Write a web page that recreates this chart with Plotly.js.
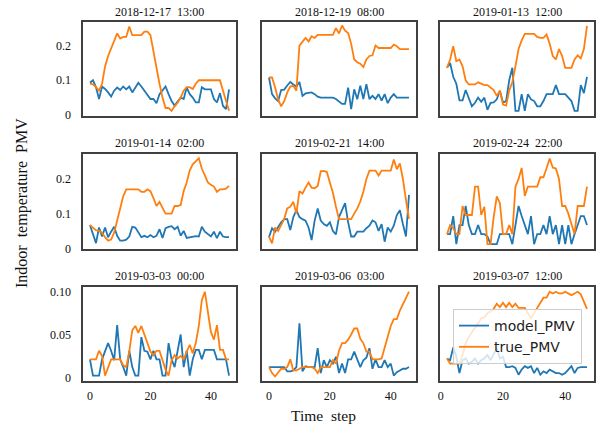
<!DOCTYPE html>
<html>
<head>
<meta charset="utf-8">
<script src="https://cdn.plot.ly/plotly-3.0.1.min.js"></script>
<style>html,body{margin:0;padding:0;background:#fff;}#chart{width:602px;height:424px;}</style>
</head>
<body>
<div id="chart"></div>
<script>
// Time steps
const stepsA = [0,1,2,3,4,5,6,7,8,9,10,11,12,13,14,15,16,17,18,19,20,21,22,23,24,25,26,27,28,29,30,31,32,33,34,35,36,37,38,39,40,41,42,43,44,45,46];
const stepsB = [2,3,4,5,6,7,8,9,10,11,12,13,14,15,16,17,18,19,20,21,22,23,24,25,26,27,28,29,30,31,32,33,34,35,36,37,38,39,40,41,42,43,44,45,46,47];

const panelTitles = ["2018-12-17\u00a0\u00a013:00","2018-12-19\u00a0\u00a008:00","2019-01-13\u00a0\u00a012:00",
                     "2019-01-14\u00a0\u00a002:00","2019-02-21\u00a0\u00a014:00","2019-02-24\u00a0\u00a022:00",
                     "2019-03-03\u00a0\u00a000:00","2019-03-06\u00a0\u00a003:00","2019-03-07\u00a0\u00a012:00"];

// Panel 1: 2018-12-17 13:00
const model1 = [0.093,0.1,0.08,0.046,0.082,0.075,0.065,0.053,0.07,0.079,0.072,0.082,0.074,0.082,0.065,0.08,0.093,0.082,0.07,0.06,0.046,0.046,0.034,0.06,0.07,0.082,0.06,0.04,0.027,0.04,0.05,0.046,0.079,0.06,0.05,0.036,0.036,0.08,0.074,0.074,0.074,0.046,0.036,0.063,0.026,0.017,0.074];
const true1  = [0.09,0.088,0.08,0.07,0.09,0.14,0.17,0.19,0.21,0.235,0.22,0.225,0.225,0.255,0.23,0.23,0.23,0.23,0.24,0.24,0.23,0.18,0.13,0.09,0.05,0.02,0.02,0.012,0.025,0.035,0.05,0.07,0.08,0.08,0.075,0.09,0.1,0.1,0.1,0.1,0.1,0.1,0.1,0.1,0.07,0.04,0.012];
// Panel 2: 2018-12-19 08:00
const model2 = [0.108,0.06,0.048,0.04,0.072,0.073,0.085,0.095,0.088,0.082,0.095,0.055,0.062,0.064,0.065,0.06,0.053,0.05,0.05,0.05,0.05,0.05,0.046,0.04,0.032,0.032,0.079,0.017,0.074,0.045,0.084,0.046,0.089,0.046,0.055,0.046,0.06,0.041,0.06,0.034,0.05,0.06,0.05,0.05,0.05,0.05,0.05];
const true2  = [0.108,0.108,0.08,0.045,0.025,0.04,0.065,0.082,0.084,0.07,0.2,0.212,0.222,0.212,0.227,0.222,0.231,0.231,0.231,0.231,0.231,0.231,0.25,0.235,0.258,0.243,0.236,0.205,0.16,0.152,0.148,0.138,0.16,0.17,0.172,0.2,0.193,0.193,0.193,0.193,0.193,0.203,0.198,0.19,0.19,0.19,0.19];
// Panel 3: 2019-01-13 12:00
const model3 = [0.136,0.15,0.11,0.09,0.042,0.042,0.072,0.05,0.025,0.035,0.05,0.038,0.05,0.015,0.035,0.036,0.045,0.07,0.036,0.04,0.1,0.136,0.012,0.012,0.06,0.012,0.06,0.045,0.04,0.025,0.025,0.04,0.06,0.06,0.06,0.086,0.06,0.06,0.06,0.05,0.04,0.012,0.012,0.086,0.063,0.11];
const true3  = [0.136,0.16,0.198,0.155,0.16,0.14,0.1,0.088,0.088,0.088,0.094,0.09,0.086,0.086,0.08,0.072,0.055,0.07,0.03,0.027,0.07,0.095,0.14,0.19,0.215,0.234,0.234,0.234,0.234,0.225,0.222,0.222,0.232,0.205,0.17,0.16,0.19,0.17,0.136,0.136,0.136,0.16,0.172,0.163,0.19,0.257];
// Panel 4: 2019-01-14 02:00
const model4 = [0.067,0.04,0.015,0.06,0.034,0.06,0.032,0.048,0.062,0.036,0.022,0.022,0.025,0.034,0.062,0.06,0.045,0.032,0.036,0.032,0.038,0.032,0.036,0.055,0.03,0.058,0.062,0.064,0.055,0.062,0.036,0.05,0.03,0.032,0.034,0.035,0.034,0.062,0.048,0.042,0.034,0.048,0.029,0.048,0.034,0.032,0.032];
const true4  = [0.067,0.06,0.052,0.05,0.045,0.032,0.022,0.025,0.045,0.08,0.118,0.15,0.17,0.17,0.17,0.17,0.17,0.163,0.163,0.17,0.165,0.145,0.122,0.134,0.118,0.1,0.1,0.1,0.122,0.122,0.125,0.165,0.19,0.225,0.242,0.25,0.26,0.23,0.21,0.19,0.183,0.178,0.163,0.17,0.17,0.172,0.18];
// Panel 5: 2019-02-21 14:00
const model5 = [0.032,0.058,0.048,0.062,0.075,0.084,0.084,0.053,0.09,0.11,0.09,0.084,0.08,0.06,0.024,0.08,0.115,0.08,0.07,0.065,0.075,0.05,0.04,0.09,0.11,0.13,0.075,0.034,0.034,0.048,0.048,0.048,0.058,0.065,0.08,0.075,0.05,0.07,0.019,0.06,0.048,0.065,0.096,0.11,0.07,0.034,0.154];
const true5  = [0.034,0.014,0.06,0.05,0.067,0.085,0.115,0.12,0.134,0.1,0.165,0.158,0.175,0.19,0.175,0.173,0.18,0.222,0.223,0.22,0.19,0.16,0.12,0.084,0.084,0.084,0.084,0.084,0.1,0.115,0.135,0.163,0.2,0.224,0.224,0.224,0.21,0.224,0.224,0.224,0.224,0.256,0.228,0.245,0.2,0.14,0.085];
// Panel 6: 2019-02-24 22:00
const model6 = [0.041,0.041,0.093,0.012,0.067,0.067,0.122,0.067,0.041,0.041,0.067,0.041,0.041,0.034,0.012,0.012,0.012,0.041,0.041,0.041,0.041,0.012,0.067,0.122,0.093,0.067,0.041,0.093,0.012,0.041,0.041,0.067,0.041,0.093,0.041,0.067,0.012,0.067,0.012,0.067,0.012,0.041,0.067,0.093,0.093,0.067];
const true6  = [0.041,0.067,0.058,0.041,0.041,0.122,0.096,0.096,0.096,0.178,0.178,0.096,0.12,0.012,0.012,0.09,0.15,0.13,0.041,0.041,0.067,0.041,0.178,0.2,0.232,0.151,0.178,0.178,0.178,0.178,0.205,0.205,0.231,0.259,0.233,0.23,0.2,0.122,0.122,0.1,0.07,0.041,0.122,0.122,0.122,0.178];
// Panel 7: 2019-03-03 00:00
const model7 = [0.021,0.002,0.002,0.002,0.021,0.031,0.04,0.031,0.02,0.061,0.021,0.012,0.002,0.031,0.012,0.002,0.002,0.047,0.031,0.03,0.021,0.031,0.021,0.021,0.002,0.002,0.04,0.021,0.012,0.031,0.05,0.012,0.031,0.002,0.021,0.032,0.032,0.021,0.032,0.032,0.032,0.032,0.021,0.021,0.021,0.021,0.002];
const true7  = [0.021,0.021,0.021,0.031,0.025,0.002,0.012,0.021,0.021,0.021,0.021,0.014,0.012,0.03,0.055,0.06,0.052,0.06,0.05,0.04,0.03,0.026,0.031,0.031,0.021,0.009,0.002,0.02,0.026,0.022,0.025,0.021,0.03,0.038,0.028,0.04,0.06,0.09,0.1,0.079,0.053,0.044,0.061,0.032,0.032,0.021,0.021];
// Panel 8: 2019-03-06 03:00
const model8 = [0.012,0.012,0.012,0.012,0.012,0.012,0.007,0.007,0.008,0.012,0.063,0.007,0.013,0.012,0.012,0.012,0.034,0.005,0.02,0.012,0.02,0.016,0.024,0.005,0.016,0.005,0.021,0.021,0.03,0.021,0.012,0.02,0.023,0.034,0.01,0.021,0.012,0.012,0.02,0.012,0.016,0.002,0.006,0.008,0.01,0.01,0.012];
const true8  = [0.012,0.005,0.001,0.005,0.01,0.01,0.012,0.021,0.008,0.008,0.01,0.012,0.012,0.012,0.012,0.01,0.005,0.012,0.012,0.012,0.012,0.02,0.016,0.031,0.04,0.04,0.044,0.05,0.057,0.057,0.045,0.04,0.03,0.03,0.021,0.021,0.021,0.022,0.035,0.047,0.06,0.068,0.068,0.078,0.085,0.092,0.1];
// Panel 9: 2019-03-07 12:00
const model9 = [0.022,0.02,0.035,0.024,0.005,0.02,0.022,0.016,0.018,0.022,0.016,0.02,0.022,0.026,0.02,0.027,0.034,0.022,0.024,0.012,0.012,0.013,0.011,0.003,0.009,0.013,0.011,0.013,0.005,0.011,0.003,0.007,0.005,0.009,0.007,0.005,0.005,0.003,0.005,0.009,0.013,0.005,0.011,0.012,0.012,0.012];
const true9  = [0.022,0.016,0.016,0.016,0.016,0.026,0.04,0.047,0.053,0.058,0.063,0.069,0.07,0.075,0.077,0.08,0.086,0.082,0.087,0.082,0.087,0.082,0.086,0.081,0.081,0.081,0.075,0.069,0.075,0.081,0.086,0.093,0.093,0.1,0.098,0.1,0.098,0.098,0.1,0.098,0.096,0.098,0.1,0.097,0.088,0.08];

const modelSeries = [model1,model2,model3,model4,model5,model6,model7,model8,model9];
const trueSeries  = [true1,true2,true3,true4,true5,true6,true7,true8,true9];

const rowTickVals = [[0,0.1,0.2],[0,0.1,0.2],[0,0.05,0.1]];
const rowTickText = [["0","0.1","0.2"],["0","0.1","0.2"],["0","0.05","0.10"]];
const xTickVals = [0,20,40];
const xTickText = ["0","20","40"];

// ---- layout geometry ----
const W = 602, H = 424;
const colPx = [[83,236],[262,416],[440,594]];
const rowPx = [[22,116],[154,249],[287,381]];
const rowRange = [[-0.003,0.268],[-0.002,0.272],[-0.0043,0.1055]];
const colRange = [[-2.3,48.3],[-2.3,48.3],[-0.25,49.25]];
const titleY = [12,143,276];

const BLUE = '#1f77b4', ORANGE = '#ff7f0e';
const serif = 'Liberation Serif, Times New Roman, serif';

const data = [];
const layout = {
  width: W, height: H,
  margin: {l:0, r:0, t:0, b:0},
  paper_bgcolor: '#fff', plot_bgcolor: '#fff',
  showlegend: true,
  legend: {
    x: 453/W, y: 1-309/H, xanchor: 'left', yanchor: 'top',
    bgcolor: 'rgba(255,255,255,0.8)', bordercolor: '#cccccc', borderwidth: 1,
    font: {family: 'DejaVu Sans, sans-serif', size: 14, color: '#222'},
    itemwidth: 30, tracegroupgap: 0
  },
  annotations: []
};

for (let i = 0; i < 9; i++) {
  const r = Math.floor(i/3), c = i % 3;
  const n = i === 0 ? '' : String(i+1);
  const xs = c === 2 ? stepsB : stepsA;
  data.push({x: xs, y: modelSeries[i], type: 'scatter', mode: 'lines', name: 'model_PMV',
    line: {color: BLUE, width: 1.8}, xaxis: 'x'+n, yaxis: 'y'+n, showlegend: i === 8, hoverinfo: 'skip'});
  data.push({x: xs, y: trueSeries[i], type: 'scatter', mode: 'lines', name: 'true_PMV',
    line: {color: ORANGE, width: 1.8}, xaxis: 'x'+n, yaxis: 'y'+n, showlegend: i === 8, hoverinfo: 'skip'});

  layout['xaxis'+n] = {
    domain: [colPx[c][0]/W, colPx[c][1]/W], anchor: 'y'+n,
    range: colRange[c], showgrid: false, zeroline: false,
    showline: true, mirror: true, linecolor: '#404040', linewidth: 1.6,
    ticks: 'outside', ticklen: 3, tickcolor: 'rgba(0,0,0,0)',
    tickvals: xTickVals, ticktext: xTickText, showticklabels: r === 2,
    tickfont: {family: serif, size: 12, color: '#111'}
  };
  layout['yaxis'+n] = {
    domain: [1-rowPx[r][1]/H, 1-rowPx[r][0]/H], anchor: 'x'+n,
    range: rowRange[r], showgrid: false, zeroline: false,
    showline: true, mirror: true, linecolor: '#404040', linewidth: 1.6,
    ticks: 'outside', ticklen: 8, tickcolor: 'rgba(0,0,0,0)',
    tickvals: rowTickVals[r], ticktext: rowTickText[r], showticklabels: c === 0,
    tickfont: {family: serif, size: 12, color: '#111'}
  };
  layout.annotations.push({
    text: panelTitles[i], xref: 'paper', yref: 'paper',
    x: (colPx[c][0]+colPx[c][1])/2/W, y: 1-titleY[r]/H,
    xanchor: 'center', yanchor: 'middle', showarrow: false,
    font: {family: serif, size: 12, color: '#111'}
  });
}

layout.annotations.push({
  text: 'Indoor\u00a0\u00a0temperature\u00a0\u00a0PMV', xref: 'paper', yref: 'paper',
  x: 22/W, y: 1-203/H, xanchor: 'center', yanchor: 'middle', textangle: -90, showarrow: false,
  font: {family: serif, size: 16, color: '#111'}
});
layout.annotations.push({
  text: 'Time\u00a0\u00a0step', xref: 'paper', yref: 'paper',
  x: 323/W, y: 1-415/H, xanchor: 'center', yanchor: 'middle', showarrow: false,
  font: {family: serif, size: 15.5, color: '#111'}
});

Plotly.newPlot('chart', data, layout, {staticPlot: true, displayModeBar: false});
</script>
</body>
</html>
